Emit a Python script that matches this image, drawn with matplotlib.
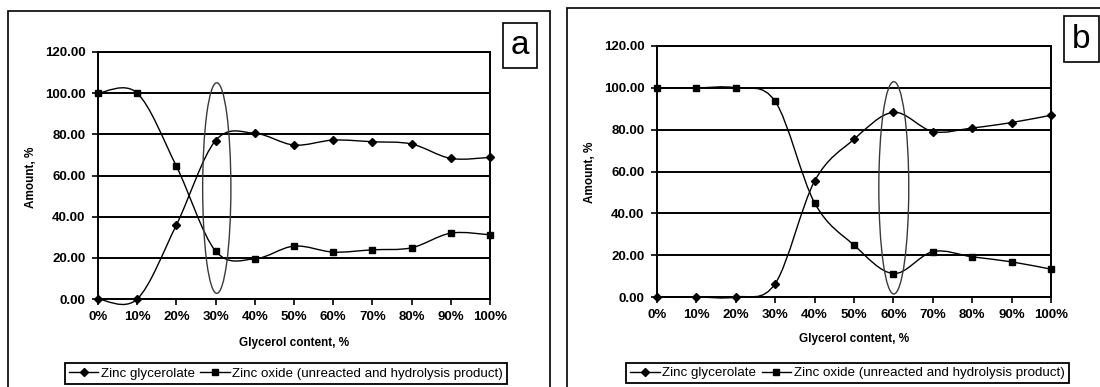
"""Zinc glycerolate vs zinc oxide content over glycerol content, panels a and b."""
import matplotlib
matplotlib.use("Agg")
import matplotlib.pyplot as plt
import numpy as np
from matplotlib.lines import Line2D
from matplotlib.patches import Ellipse, PathPatch, Rectangle
from matplotlib.path import Path

GLYCEROL = [0, 10, 20, 30, 40, 50, 60, 70, 80, 90, 100]
X_LABELS = ["0%", "10%", "20%", "30%", "40%", "50%", "60%", "70%", "80%", "90%", "100%"]
Y_TICKS = [0, 20, 40, 60, 80, 100, 120]

# panel a
A_GLYCEROLATE = [0, 0, 36, 77, 80.5, 74.8, 77.2, 76.4, 75.3, 68.3, 68.8]
A_OXIDE = [100, 100, 64.5, 23.3, 19.5, 25.7, 22.8, 23.9, 24.9, 32.0, 31.2]
A_ELLIPSE = (30.3, 53.9, 7.2, 102.3)  # centre x, centre y, width, height

# panel b
B_GLYCEROLATE = [0, 0, 0, 6.4, 55.4, 75.4, 88.3, 79.1, 80.8, 83.4, 86.9]
B_OXIDE = [100, 100, 100, 93.5, 45.0, 24.8, 11.2, 21.7, 19.2, 16.8, 13.3]
B_ELLIPSE = (60.1, 52.2, 7.6, 101.5)

W, H = 1100, 387


def fx(px):
    return px / W


def fy(py):
    return 1 - py / H


def smooth_path(x, y):
    # Excel-style smoothed line: cubic bezier through the points
    pts = np.column_stack([x, y]).astype(float)
    n = len(pts)
    verts = [pts[0]]
    codes = [Path.MOVETO]
    for i in range(n - 1):
        p0, p1 = pts[max(i - 1, 0)], pts[i]
        p2, p3 = pts[i + 1], pts[min(i + 2, n - 1)]
        verts += [p1 + (p2 - p0) / 6, p2 - (p3 - p1) / 6, p2]
        codes += [Path.CURVE4] * 3
    return Path(verts, codes)


def draw_panel(fig, rect, glyc, oxide, ell, xlab_y, ylab_x, ylab_y, leg_xy):
    ax = fig.add_axes(rect)
    for vals, mk, ms in [(glyc, "D", 4.2), (oxide, "s", 4.6)]:
        ax.add_patch(PathPatch(smooth_path(GLYCEROL, vals), fill=False,
                               edgecolor="black", lw=1.0, clip_on=False, zorder=3))
        ax.plot(GLYCEROL, vals, ls="none", marker=mk, ms=ms, color="black",
                clip_on=False, zorder=4)
    cx, cy, ew, eh = ell
    ax.add_patch(Ellipse((cx, cy), ew, eh, fill=False, edgecolor="#3a3a3a",
                         lw=1.0, zorder=3))
    ax.set_xlim(0, 100)
    ax.set_ylim(0, 120)
    ax.set_xticks(GLYCEROL)
    ax.set_xticklabels(X_LABELS)
    ax.set_yticks(Y_TICKS)
    ax.set_yticklabels([f"{v:.2f}" for v in Y_TICKS])
    ax.yaxis.grid(True, color="black", lw=1.4)
    ax.set_axisbelow(True)
    for s in ax.spines.values():
        s.set_color("black")
        s.set_linewidth(1.4)
    ax.tick_params(axis="both", direction="out", length=4, width=1.2,
                   labelsize=9.5)
    ax.tick_params(axis="y", pad=5)
    ax.tick_params(axis="x", pad=5)
    for t in ax.get_xticklabels() + ax.get_yticklabels():
        t.set_fontweight("bold")

    fig.text(rect[0] + rect[2] / 2, xlab_y, "Glycerol content, %", ha="center",
             va="center", fontsize=8.5, fontweight="bold")
    fig.text(ylab_x, ylab_y, "Amount, %", rotation=90, ha="center",
             va="center", fontsize=8.5, fontweight="bold")

    handles = [
        Line2D([], [], color="black", lw=1.0, marker="D", ms=4.2),
        Line2D([], [], color="black", lw=1.0, marker="s", ms=4.6),
    ]
    fig.legend(handles, ["Zinc glycerolate",
                         "Zinc oxide (unreacted and hydrolysis product)"],
               loc="center", bbox_to_anchor=leg_xy, ncol=2, fontsize=9.6,
               frameon=True, fancybox=False, edgecolor="black",
               handlelength=2.2, handletextpad=0.2, columnspacing=0.4,
               borderpad=0.3, framealpha=1).get_frame().set_linewidth(1.3)
    return ax


def main():
    plt.rcParams.update({"font.family": ["Liberation Sans", "DejaVu Sans"]})
    fig = plt.figure(figsize=(W / 100, H / 100), dpi=100)

    # outer panel frames
    fig.add_artist(Rectangle((fx(8), -0.1), fx(542), fy(11) + 0.1, fill=False,
                             edgecolor="black", lw=1.2, transform=fig.transFigure))
    fig.add_artist(Rectangle((fx(567), -0.1), 0.6, fy(8) + 0.1, fill=False,
                             edgecolor="black", lw=1.2, transform=fig.transFigure))

    draw_panel(fig, [fx(98), fy(299), fx(392), 247 / H], A_GLYCEROLATE, A_OXIDE,
               A_ELLIPSE, fy(343), fx(31), fy(177), (fx(286), fy(373.5)))
    draw_panel(fig, [fx(657), fy(297), fx(394), 251 / H], B_GLYCEROLATE, B_OXIDE,
               B_ELLIPSE, fy(339), fx(590), fy(172), (fx(847.5), fy(373)))

    # panel letters
    for (x0, y0, x1, y1), letter in [((503, 23, 537, 68), "a"),
                                     ((1064, 16, 1099, 62), "b")]:
        fig.add_artist(Rectangle((fx(x0), fy(y1)), fx(x1 - x0), (y1 - y0) / H,
                                 fill=True, facecolor="white", edgecolor="black",
                                 lw=1.2, transform=fig.transFigure))
        fig.text(fx((x0 + x1) / 2), fy((y0 + y1) / 2), letter, ha="center",
                 va="center", fontsize=24)

    fig.savefig("out.png", dpi=100)


if __name__ == "__main__":
    main()
